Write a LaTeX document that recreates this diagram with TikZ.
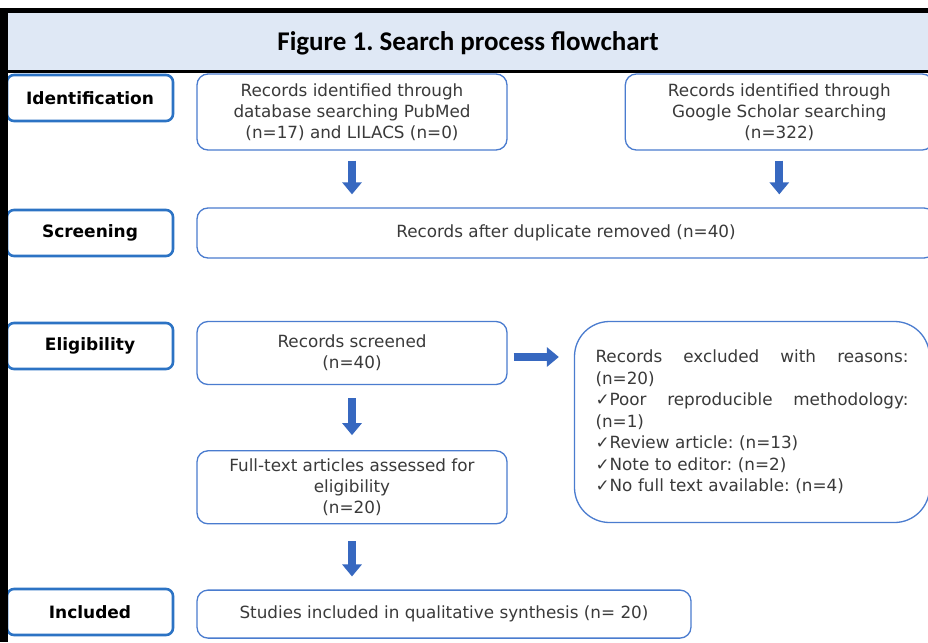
\documentclass[tikz,border=0pt]{standalone}
\usepackage{fontspec}
\setmainfont{DejaVu Sans}
\newfontfamily\titlefont{Carlito}
\usepackage{xcolor}
\usetikzlibrary{positioning,arrows.meta}

\definecolor{boxblue}{HTML}{4A7CCF}
\definecolor{tagblue}{HTML}{2C73C4}
\definecolor{arrowblue}{HTML}{3768C0}
\definecolor{titleband}{HTML}{DFE8F5}
\definecolor{txtgray}{HTML}{3A3A3A}

\frenchspacing
\newcommand{\spreadline}[1]{\makebox[313pt][l]{#1}}

\tikzset{
  stage/.style={draw=tagblue, line width=2.6pt, rounded corners=7pt, fill=white,
    minimum width=166pt, minimum height=46pt, text=black,
    font=\fontsize{17}{19}\selectfont\bfseries},
  record/.style={draw=boxblue, line width=1.3pt, rounded corners=11pt, fill=white,
    align=center, text=txtgray, inner sep=0pt, font=\fontsize{16.8}{21}\selectfont},
  blockarrow/.style={draw=arrowblue, line width=8pt, -{Triangle[width=19pt,length=12pt]}},
}

\begin{document}
\begin{tikzpicture}[x=1pt,y=-1pt]
  \useasboundingbox (0,0) rectangle (928,642);
  \fill[white] (0,0) rectangle (928,642);

  % stages on the left
  \node[stage] (identification) at (90,98) {Identification};
  \node[stage] (screening) at (90,233) {Screening};
  \node[stage] (eligibility) at (90,346) {Eligibility};
  \node[stage] (included) at (90,612) {Included};

  % frame and title
  \fill[black] (0,8) rectangle (928,13);
  \fill[titleband] (8,13) rectangle (928,70);
  \fill[black] (8,70) rectangle (928,73);
  \fill[black] (0,8) rectangle (8,642);
  \node[font=\titlefont\fontsize{27}{30}\selectfont\bfseries] (title) at (468,43) {Figure 1. Search process flowchart};

  % records
  \node[record, minimum width=310pt, minimum height=76pt] (pubmed) at (352,112)
    {Records identified through\\database searching PubMed\\(n=17) and LILACS (n=0)};
  \node[record, minimum width=308pt, minimum height=76pt, right=117pt of pubmed] (scholar)
    {Records identified through\\Google Scholar searching\\(n=322)};
  \node[record, minimum width=738pt, minimum height=50pt] (duplicates) at (566,233)
    {Records after duplicate removed (n=40)};
  \node[record, minimum width=310pt, minimum height=63pt] (screened) at (352,353)
    {Records screened\\(n=40)};
  \node[record, minimum width=310pt, minimum height=73pt, below=65pt of screened] (fulltext)
    {Full-text articles assessed for\\eligibility\\(n=20)};
  \node[record, minimum width=494pt, minimum height=48pt, below=65pt of fulltext.south west, anchor=north west] (studies)
    {Studies included in qualitative synthesis (n= 20)};
  \node[record, rounded corners=35pt, minimum width=355pt, minimum height=201pt,
    text width=313pt, align=left, font=\fontsize{16.8}{21.5}\selectfont] (excluded) at (752,422)
    {\spreadline{Records\hfill excluded\hfill with\hfill reasons:}\\(n=20)\\
     \spreadline{✓Poor\hfill reproducible\hfill methodology:}\\(n=1)\\
     ✓Review article: (n=13)\\✓Note to editor: (n=2)\\✓No full text available: (n=4)};

  % arrows
  \draw[blockarrow, shorten <=10pt, shorten >=13pt] (pubmed.south) -- (pubmed.south |- duplicates.north);
  \draw[blockarrow, shorten <=10pt, shorten >=13pt] (scholar.south) -- (scholar.south |- duplicates.north);
  \draw[blockarrow, shorten <=6pt, shorten >=15pt] ([yshift=-4pt]screened.east) -- ([yshift=-4pt]screened.east -| excluded.west);
  \draw[blockarrow, shorten <=13pt, shorten >=15pt] (screened) -- (fulltext);
  \draw[blockarrow, shorten <=17pt, shorten >=13pt] (fulltext.south) -- (fulltext.south |- studies.north);
\end{tikzpicture}
\end{document}
